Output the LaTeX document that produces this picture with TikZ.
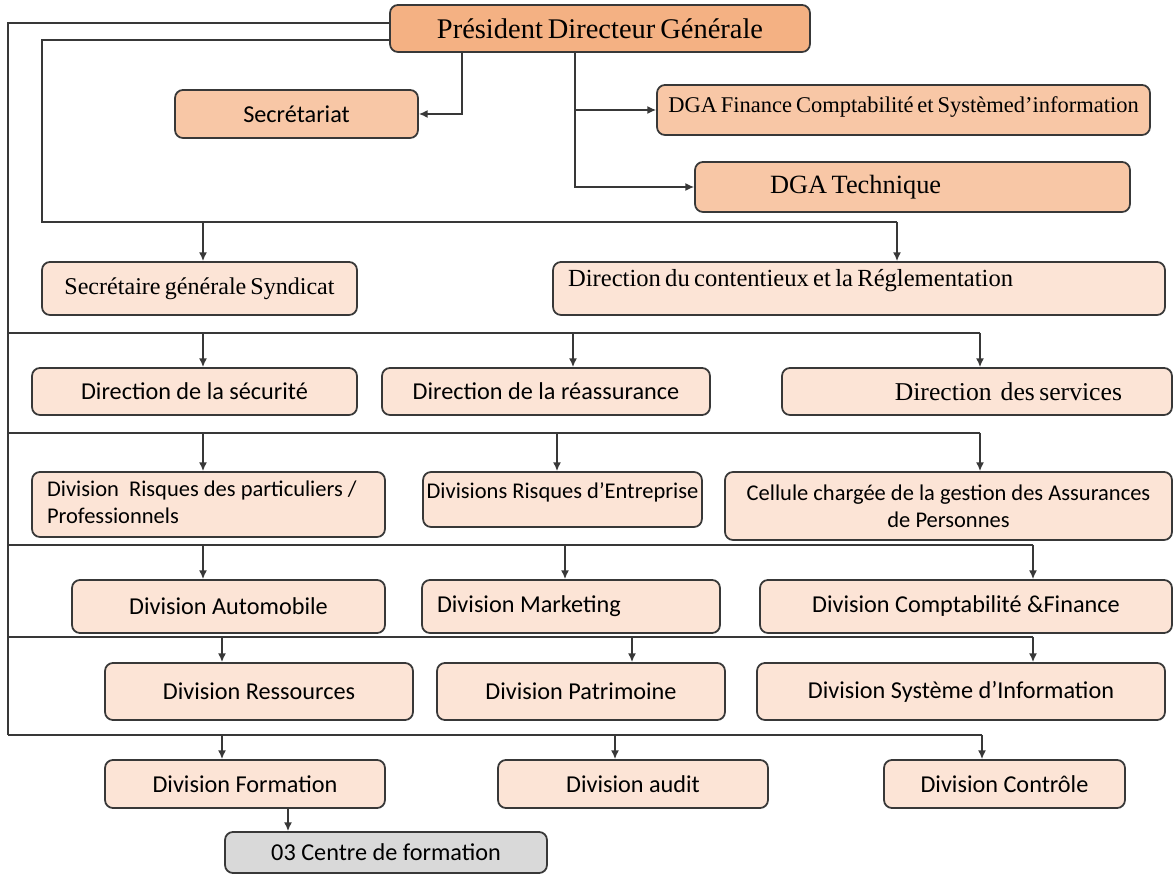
\documentclass[tikz,border=0pt]{standalone}
\usepackage{fontspec}
\setmainfont[WordSpace=0.7]{Liberation Serif}
\newfontfamily\calibri{Carlito}
\usetikzlibrary{arrows.meta}
\definecolor{pdgfill}{HTML}{F4B183}
\definecolor{midfill}{HTML}{F8C7A6}
\definecolor{lightfill}{HTML}{FCE4D6}
\definecolor{grayfill}{HTML}{D9D9D9}
\definecolor{edge}{HTML}{383838}
\tikzset{box/.style={draw=edge,line width=1pt,rounded corners=4.5pt,fill=lightfill,inner sep=2pt}}
\tikzset{sf/.style={font=\calibri\fontsize{13.8}{16}\selectfont}}
\tikzset{sfs/.style={font=\calibri\fontsize{12.8}{15.5}\selectfont}}
\tikzset{rm/.style={font=\fontsize{#1}{16}\selectfont}}
\tikzset{wire/.style={draw=edge,line width=0.8pt}}
\tikzset{arr/.style={wire,-{Latex[length=5pt,width=4.5pt]}}}

\begin{document}
\begin{tikzpicture}[x=0.02cm,y=-0.02cm]
  \useasboundingbox (0,0) rectangle (1174,874);
  % top level
  \node[box,fill=pdgfill,rm=16.2,minimum width=8.4cm,minimum height=0.94cm] (pdg) at (600,28.5) {Président Directeur Générale};
  \node[box,fill=midfill,sf,minimum width=4.86cm,minimum height=0.96cm] (secr) at (296.5,114) {Secrétariat};
  \node[box,fill=midfill,rm=12.8,text depth=6pt,minimum width=9.86cm,minimum height=1cm] (dgaf) at (903.5,110) {DGA Finance Comptabilité et Systèmed’information};
  \node[box,fill=midfill,rm=15,inner xsep=1.5cm,minimum height=1cm] (dgat) at (912.5,187) {\makebox[5.7cm][l]{DGA Technique}};
  \node[box,rm=13.7,minimum width=6.3cm,minimum height=1.06cm] (ssg) at (199.5,288.5) {Secrétaire générale\,Syndicat};
  \node[box,rm=14,inner xsep=0.3cm,text depth=12pt,minimum height=1.06cm] (dcont) at (859,288.5) {\makebox[11.64cm][l]{Direction du contentieux et la Réglementation}};
  % directions
  \node[box,sf,minimum width=6.5cm,minimum height=0.94cm] (dsec) at (194.5,391.5) {Direction de la sécurité};
  \node[box,sf,minimum width=6.56cm,minimum height=0.94cm] (drea) at (546,391.5) {Direction de la réassurance};
  \node[box,rm=14.6,inner xsep=1cm,minimum height=0.94cm] (dserv) at (977,391.5) {\makebox[5.8cm][r]{Direction\ \ des services}};
  % divisions
  \node[box,sfs,inner xsep=0.3cm,minimum height=1.3cm] (drp) at (208.5,504.5) {\makebox[6.46cm][l]{\begin{tabular}{@{}l@{}}Division\ \ Risques des particuliers /\\Professionnels\end{tabular}}};
  \node[box,sfs,text depth=10pt,minimum width=5.5cm,minimum height=1.1cm] (dre) at (562.5,499.5) {Divisions Risques d’Entreprise};
  \node[box,sfs,align=center,minimum width=8.94cm,minimum height=1.36cm] (cell) at (948.5,506) {Cellule chargée de la gestion des Assurances\\de Personnes};
  \node[box,sf,minimum width=6.26cm,minimum height=1.06cm] (dauto) at (228.5,606.5) {Division Automobile};
  \node[box,sf,inner xsep=0.3cm,minimum height=1.06cm] (dmark) at (571,606.5) {\makebox[5.36cm][l]{Division Marketing}};
  \node[box,sf,minimum width=8.24cm,minimum height=1.06cm] (dcompta) at (966,606.5) {Division Comptabilité \&Finance};
  \node[box,sf,minimum width=6.16cm,minimum height=1.14cm] (dress) at (259,691.5) {Division Ressources};
  \node[box,sf,minimum width=5.76cm,minimum height=1.14cm] (dpat) at (581,691.5) {Division Patrimoine};
  \node[box,sf,minimum width=8.16cm,minimum height=1.14cm] (dsi) at (961,691.5) {Division Système d’Information};
  \node[box,sf,minimum width=5.6cm,minimum height=0.96cm] (dform) at (245,784) {Division Formation};
  \node[box,sf,minimum width=5.4cm,minimum height=0.96cm] (daudit) at (633,784) {Division audit};
  \node[box,sf,minimum width=4.82cm,minimum height=0.96cm] (dctrl) at (1004.5,784) {Division Contrôle};
  \node[box,sf,fill=grayfill,minimum width=6.44cm,minimum height=0.82cm] (centre) at (386,852.5) {03 Centre de formation};
  % lines from the top
  \coordinate (o1) at (8,23);
  \coordinate (o2) at (8,735);
  \coordinate (i1) at (42,40);
  \coordinate (i2) at (42,222);
  \draw[wire] (pdg.west |- o1) -- (o1) -- (o2);
  \draw[wire] (pdg.west |- i1) -- (i1) -- (i2) -- (897,222);
  \draw[arr] (pdg.south -| 462,0) |- (secr.east);
  \draw[arr] (pdg.south -| 575,0) |- (dgaf.west);
  \draw[arr] (pdg.south -| 575,0) |- (dgat.west);
  \foreach \x/\b in {203/ssg,897/dcont}
    \draw[arr] (\x,222) -- (\b.north -| \x,0);
  % buses
  \foreach \y/\e in {333/980,433/980,545/1033,637/1033,735/982}
    \draw[wire] (8,\y) -- (\e,\y);
  \foreach \x/\y/\b in {203/333/dsec,573/333/drea,980/333/dserv,
                        203/433/drp,557/433/dre,980/433/cell,
                        203/545/dauto,565/545/dmark,1033/545/dcompta,
                        222/637/dress,632/637/dpat,1033/637/dsi,
                        222/735/dform,615/735/daudit,982/735/dctrl}
    \draw[arr] (\x,\y) -- (\b.north -| \x,0);
  \draw[arr] (dform.south -| 288,0) -- (centre.north -| 288,0);
\end{tikzpicture}
\end{document}
